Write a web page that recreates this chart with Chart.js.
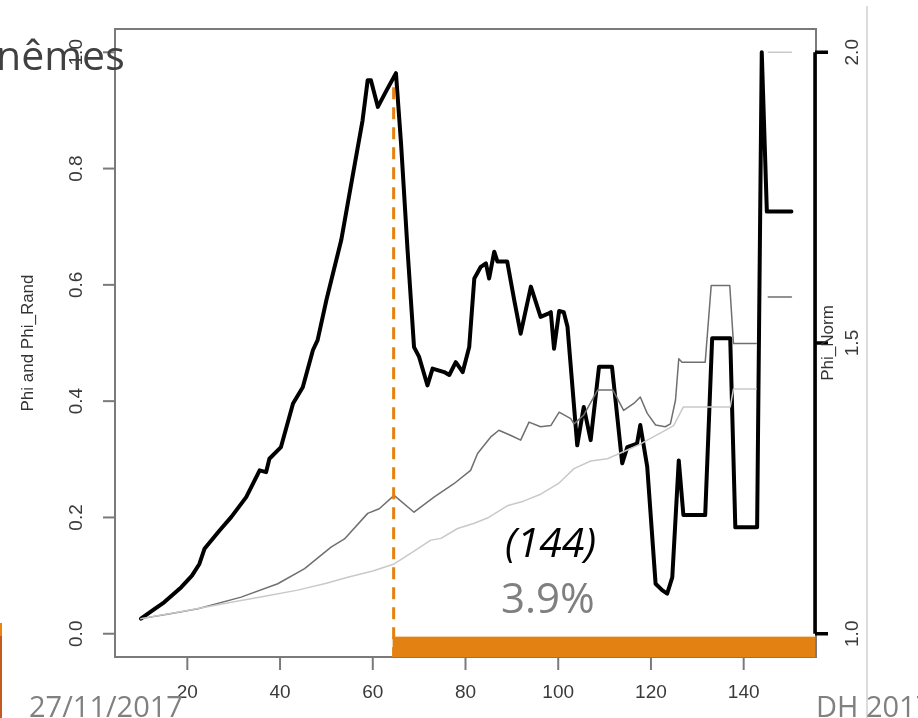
<!DOCTYPE html>
<html>
<head>
<meta charset="utf-8">
<script src="https://cdn.jsdelivr.net/npm/chart.js@4.4.1/dist/chart.umd.min.js"></script>
<style>
  html, body { margin: 0; padding: 0; background: #fff; overflow: hidden; }
  #slide { position: relative; width: 918px; height: 718px; overflow: hidden; background: #fff; }
  #phiChart { position: absolute; left: 0; top: 0; filter: blur(0.75px); }
  .txt { position: absolute; white-space: nowrap; font-family: "Open Sans", sans-serif; line-height: 1; }
  .heading { left: -4px; top: 34px; font-size: 41px; color: #404040; }
  .date { left: 29px; top: 691px; font-size: 29px; color: #808080; }
  .event { left: 816px; top: 691px; font-size: 29px; color: #808080; }
  .count { left: 505px; top: 521px; font-size: 41px; font-style: italic; color: #000; }
  .share { left: 501px; top: 576px; font-size: 42px; color: #7f7f7f; }
  .edge-top { position: absolute; left: 0; top: 623px; width: 2px; height: 13px; background: #e8850c; }
  .edge-bottom { position: absolute; left: 0; top: 636px; width: 2px; height: 82px; background: #c55a1f; }
  .rule { position: absolute; left: 866px; top: 6px; width: 2px; height: 712px; background: #dcdcdc; }
</style>
</head>
<body>
<div id="slide">
  <canvas id="phiChart" width="918" height="718"></canvas>
  <div class="rule"></div>
  <div class="edge-top"></div>
  <div class="edge-bottom"></div>
  <div class="txt heading">nêmes</div>
  <div class="txt count">(144)</div>
  <div class="txt share">3.9%</div>
  <div class="txt date">27/11/2017</div>
  <div class="txt event">DH 2017</div>
</div>
<script>
// Phi, thick black curve
const phiX = [10, 12.5, 15, 18.7, 21, 22.6, 23.7, 27, 29.5, 32.7, 35.6, 37, 37.7, 40.2, 42.8, 44.9,
  47.1, 48.1, 50, 53.2, 55.5, 57.8, 58.9, 59.6, 61.1, 63, 65, 66.1, 67.5, 68.9, 70, 71.8, 72.9,
  75.4, 76.5, 77.9, 79.4, 80.8, 81.9, 83.3, 84.4, 85.1, 86.2, 86.9, 89, 90.5, 91.9, 94.1, 96.2,
  97.7, 98.4, 99.1, 100.2, 101.2, 102, 104.1, 105.5, 107, 108.8, 111.6, 113.8, 114.9, 117, 117.7,
  119.2, 121, 122.4, 123.5, 124.6, 126, 127, 131.7, 133.2, 137.1, 138.2, 142.9, 143.9, 145, 150.3];
const phiY = [0.026, 0.040, 0.054, 0.080, 0.100, 0.120, 0.146, 0.178, 0.201, 0.235, 0.281, 0.278,
  0.301, 0.321, 0.396, 0.424, 0.488, 0.505, 0.574, 0.677, 0.780, 0.883, 0.952, 0.952, 0.906, 0.935,
  0.964, 0.843, 0.660, 0.493, 0.476, 0.427, 0.456, 0.450, 0.445, 0.467, 0.450, 0.493, 0.611, 0.631,
  0.637, 0.611, 0.657, 0.640, 0.640, 0.574, 0.516, 0.597, 0.545, 0.550, 0.553, 0.490, 0.555, 0.553,
  0.528, 0.324, 0.390, 0.333, 0.459, 0.459, 0.293, 0.321, 0.327, 0.359, 0.287, 0.086, 0.075, 0.069,
  0.097, 0.298, 0.204, 0.204, 0.508, 0.508, 0.183, 0.183, 1.0, 0.726, 0.726];

// Phi_Rand, thin grey curve (null breaks the line)
const randX = [10, 16, 22.3, 31.6, 39.5, 45.3, 51, 53.9, 58.9, 61.4, 64.6, 68.9, 73.2, 77.5, 81.1,
  82.6, 85.4, 87.2, 89.8, 91.9, 93.7, 96.2, 98.4, 100.2, 102.7, 103.4, 105.5, 108.5, 111.8, 114.1,
  116.3, 117.7, 119.2, 121, 123.1, 124.2, 125.3, 126, 126.7, 131.7, 133, 137, 137.8, 142.7, 144,
  145.3, 150.3];
const randY = [0.026, 0.034, 0.043, 0.063, 0.086, 0.112, 0.149, 0.163, 0.207, 0.215, 0.238, 0.209,
  0.235, 0.258, 0.281, 0.310, 0.338, 0.350, 0.341, 0.333, 0.364, 0.356, 0.358, 0.381, 0.370, 0.361,
  0.376, 0.419, 0.419, 0.384, 0.396, 0.407, 0.379, 0.359, 0.356, 0.361, 0.402, 0.473, 0.467, 0.467,
  0.599, 0.599, 0.499, 0.499, null, 0.579, 0.579];

// light grey curve
const lowX = [10, 20, 29.5, 37, 43.8, 50, 54.6, 60, 64.6, 68.5, 72.5, 74.7, 78.3, 81.9, 85, 89,
  92.5, 96.2, 100, 103.4, 107, 110.6, 114.9, 117.7, 119.2, 122, 124.9, 127, 137.1, 137.8, 142.7,
  144, 145.3, 150.3];
const lowY = [0.026, 0.040, 0.054, 0.065, 0.075, 0.087, 0.097, 0.108, 0.120, 0.140, 0.161, 0.164,
  0.181, 0.190, 0.200, 0.220, 0.228, 0.240, 0.258, 0.284, 0.297, 0.301, 0.316, 0.326, 0.333, 0.345,
  0.358, 0.390, 0.390, 0.421, 0.421, null, 1.0, 1.0];

const xTicks = [20, 40, 60, 80, 100, 120, 140];
const leftTicks = [0, 0.2, 0.4, 0.6, 0.8, 1.0];
const rightTicks = [1.0, 1.5, 2.0];

// where the orange marker starts, and the height of its dashed line
const splitX = 64.5;
const splitTop = 0.94;

const pts = (xs, ys) => xs.map((x, i) => ({ x: x, y: ys[i] }));

const tickFont = '19px "Liberation Sans", Arial, sans-serif';

// R-like frame, axes and the orange marker
const rAxes = {
  id: 'rAxes',
  afterDraw(chart) {
    const ctx = chart.ctx;
    const a = chart.chartArea;
    const { x, y, y2 } = chart.scales;
    const seg = (x1, y1, x2, y2_) => { ctx.beginPath(); ctx.moveTo(x1, y1); ctx.lineTo(x2, y2_); ctx.stroke(); };
    const vtext = (txt, cx, cy) => {
      ctx.save(); ctx.translate(cx, cy); ctx.rotate(-Math.PI / 2);
      ctx.fillText(txt, 0, 0); ctx.restore();
    };
    ctx.save();

    // frame
    ctx.strokeStyle = '#7a7a7a';
    ctx.lineWidth = 2;
    ctx.strokeRect(a.left, a.top, a.right - a.left, a.bottom - a.top);

    ctx.fillStyle = '#3a3a3a';
    ctx.font = tickFont;
    ctx.textAlign = 'center';
    ctx.textBaseline = 'middle';

    // bottom axis
    xTicks.forEach(t => {
      const px = x.getPixelForValue(t);
      seg(px, a.bottom, px, a.bottom + 13);
      ctx.fillText(String(t), px, a.bottom + 36);
    });

    // left axis
    leftTicks.forEach(t => {
      const py = y.getPixelForValue(t);
      seg(a.left - 12, py, a.left, py);
      vtext(t.toFixed(1), 77, py);
    });

    // right axis, heavy black
    ctx.strokeStyle = '#000';
    ctx.lineWidth = 3.5;
    const r = a.right - 1;
    seg(r, y2.getPixelForValue(rightTicks[0]), r, y2.getPixelForValue(rightTicks[rightTicks.length - 1]));
    rightTicks.forEach(t => {
      const py = y2.getPixelForValue(t);
      seg(r, py, r + 13, py);
      vtext(t.toFixed(1), 853, py);
    });

    // axis titles
    ctx.fillStyle = '#333';
    ctx.font = '17px "Liberation Sans", Arial, sans-serif';
    vtext('Phi and Phi_Rand', 28, (a.top + a.bottom) / 2);
    vtext('Phi_Norm', 828, y2.getPixelForValue(1.5));

    // orange marker: dashed drop line and bar along the bottom
    const sx = x.getPixelForValue(splitX);
    ctx.strokeStyle = '#e5820f';
    ctx.lineWidth = 3;
    ctx.setLineDash([12, 8]);
    seg(sx, y.getPixelForValue(splitTop), sx, a.bottom);
    ctx.setLineDash([]);
    ctx.fillStyle = '#e38213';
    const barTop = y.getPixelForValue(-0.005);
    ctx.fillRect(sx - 1, barTop, a.right - sx, a.bottom - barTop);

    ctx.restore();
  }
};

new Chart(document.getElementById('phiChart'), {
  type: 'line',
  data: {
    datasets: [
      { data: pts(lowX, lowY), borderColor: '#c9c9c9', borderWidth: 1.5, yAxisID: 'y' },
      { data: pts(randX, randY), borderColor: '#6f6f6f', borderWidth: 1.5, yAxisID: 'y' },
      { data: pts(phiX, phiY), borderColor: '#000', borderWidth: 4, yAxisID: 'y' }
    ]
  },
  options: {
    responsive: false,
    animation: false,
    events: [],
    layout: { padding: { left: 115, right: 102, top: 29, bottom: 61 } },
    elements: { point: { radius: 0 }, line: { tension: 0, borderJoinStyle: 'round', borderCapStyle: 'round' } },
    plugins: { legend: { display: false }, tooltip: { enabled: false } },
    scales: {
      x: { type: 'linear', display: false, min: 4.4, max: 155.6 },
      y: { display: false, min: -0.04, max: 1.04 },
      y2: { display: false, position: 'right', min: 0.96, max: 2.04 }
    }
  },
  plugins: [rAxes]
});
</script>
</body>
</html>
